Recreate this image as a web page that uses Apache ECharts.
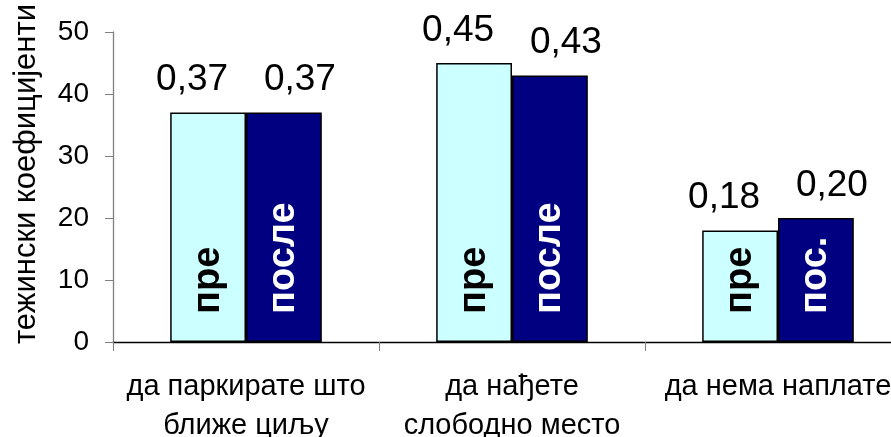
<!DOCTYPE html>
<html>
<head>
<meta charset="utf-8">
<script src="https://cdn.jsdelivr.net/npm/echarts@6/dist/echarts.min.js"></script>
<style>
html, body { margin: 0; padding: 0; background: #fff; }
#chart { width: 891px; height: 437px; }
</style>
</head>
<body>
<div id="chart"></div>
<script>
// Weighting coefficients (×100) before and after, per parking criterion
const categories = ['да паркирате што\nближе циљу', 'да нађете\nслободно место', 'да нема наплате'];
const beforeValues = [37, 45, 18];
const afterValues = [37, 43, 20];
const beforeTags = ['пре', 'пре', 'пре'];
const afterTags = ['после', 'после', 'пос.'];
const yAxisTitle = 'тежински коефицијенти';
const yMin = 0, yMax = 50, yStep = 10;

const FONT = '"Liberation Sans", Arial, sans-serif';
// plot area runs slightly past the right edge of the canvas
const gridBox = { left: 113, top: 32, width: 798, height: 310, outerBoundsMode: 'none', containLabel: false };

const fmtCoef = p => (p.value / 100).toFixed(2).replace('.', ',');

const valueLabel = dx => ({
  show: true,
  position: 'top',
  distance: 14,
  offset: [dx, 0],
  formatter: fmtCoef,
  fontFamily: FONT,
  fontSize: 37,
  color: '#000'
});

const tagLabel = (tags, color) => ({
  show: true,
  position: 'insideBottom',
  distance: 28,
  rotate: 90,
  align: 'left',
  verticalAlign: 'middle',
  formatter: p => tags[p.dataIndex],
  fontFamily: FONT,
  fontWeight: 'bold',
  fontSize: 38,
  color: color
});

const chart = echarts.init(document.getElementById('chart'), null, { renderer: 'canvas' });

chart.setOption({
  animation: false,
  backgroundColor: '#fff',
  grid: [
    Object.assign({}, gridBox),
    Object.assign({}, gridBox)
  ],
  xAxis: [
    {
      type: 'category',
      gridIndex: 0,
      data: categories,
      axisLine: { lineStyle: { color: '#000', width: 1.3 } },
      axisTick: { show: true, length: 9, alignWithLabel: false, lineStyle: { color: '#808080' } },
      axisLabel: { fontFamily: FONT, fontSize: 29, color: '#000', lineHeight: 39, margin: 25, interval: 0 }
    },
    { type: 'category', gridIndex: 1, data: categories, show: false }
  ],
  yAxis: [
    {
      type: 'value',
      gridIndex: 0,
      min: yMin, max: yMax, interval: yStep,
      axisLine: { show: true, lineStyle: { color: '#808080', width: 1.3 } },
      axisTick: { show: true, length: 8, lineStyle: { color: '#808080' } },
      splitLine: { show: false },
      axisLabel: { fontFamily: FONT, fontSize: 28, color: '#000', margin: 24 }
    },
    { type: 'value', gridIndex: 1, min: yMin, max: yMax, interval: yStep, show: false }
  ],
  graphic: [{
    type: 'text',
    x: 26, y: 344,
    rotation: Math.PI / 2,
    style: {
      text: yAxisTitle,
      fontFamily: FONT,
      fontSize: 31,
      fill: '#000',
      align: 'left',
      verticalAlign: 'middle'
    }
  }],
  series: [
    {
      name: 'пре', type: 'bar', xAxisIndex: 0, yAxisIndex: 0,
      data: beforeValues,
      barGap: '0%', barCategoryGap: '43%',
      itemStyle: { color: '#CCFFFF', borderColor: '#000', borderWidth: 1.5 },
      label: valueLabel(-16)
    },
    {
      name: 'после', type: 'bar', xAxisIndex: 0, yAxisIndex: 0,
      data: afterValues,
      barGap: '0%', barCategoryGap: '43%',
      itemStyle: { color: '#000080', borderColor: '#000', borderWidth: 1.5 },
      label: valueLabel(16)
    },
    {
      name: 'пре-tag', type: 'bar', xAxisIndex: 1, yAxisIndex: 1,
      data: beforeValues,
      barGap: '0%', barCategoryGap: '43%',
      itemStyle: { color: 'rgba(0,0,0,0)' },
      label: tagLabel(beforeTags, '#000'),
      z: 5
    },
    {
      name: 'после-tag', type: 'bar', xAxisIndex: 1, yAxisIndex: 1,
      data: afterValues,
      barGap: '0%', barCategoryGap: '43%',
      itemStyle: { color: 'rgba(0,0,0,0)' },
      label: tagLabel(afterTags, '#fff'),
      z: 5
    }
  ]
});
</script>
</body>
</html>
